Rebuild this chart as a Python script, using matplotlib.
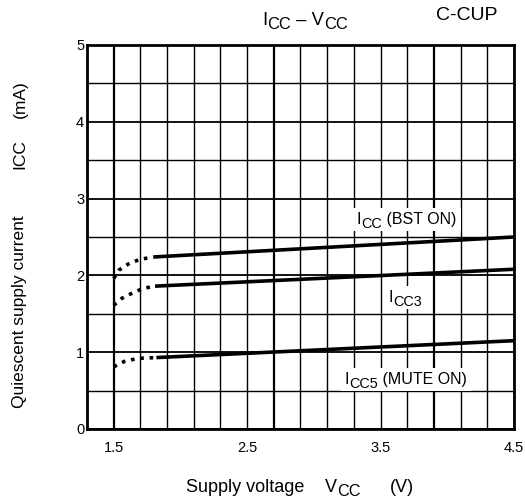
import matplotlib
matplotlib.use("Agg")
import matplotlib.pyplot as plt
from matplotlib.patches import Rectangle
import numpy as np

plt.rcParams['font.family'] = ['Liberation Sans', 'DejaVu Sans']

W, H = 525, 503

# measured curves (Vcc in V, Icc in mA)
vcc_dot_bst = [1.5, 1.54, 1.62, 1.70, 1.80]
icc_dot_bst = [1.96, 2.07, 2.16, 2.21, 2.24]
vcc_line_bst = [1.80, 4.50]
icc_line_bst = [2.24, 2.50]

vcc_dot_3 = [1.5, 1.56, 1.64, 1.72, 1.81]
icc_dot_3 = [1.61, 1.70, 1.77, 1.83, 1.86]
vcc_line_3 = [1.81, 4.50]
icc_line_3 = [1.86, 2.08]

vcc_dot_5 = [1.5, 1.58, 1.68, 1.82]
icc_dot_5 = [0.81, 0.88, 0.92, 0.93]
vcc_line_5 = [1.82, 4.50]
icc_line_5 = [0.93, 1.15]

x_ticks = [1.5, 2.5, 3.5, 4.5]
y_ticks = [0, 1, 2, 3, 4, 5]

fig = plt.figure(figsize=(W / 100, H / 100), dpi=100)
ax = fig.add_axes([87 / W, 1 - 429 / H, 427 / W, 384 / H])
renderer = fig.canvas.get_renderer()


def sub_text(px, py, parts, size, box=False):
    """text made of pieces, (string, is_subscript); px/py = left/baseline in pixels from top-left"""
    x = px
    for s, sub in parts:
        fs = size * 0.9 if sub else size
        drop = size * 100 / 72 * 0.24 if sub else 0
        t = fig.text(x / W, 1 - (py + drop) / H, s, fontsize=fs, ha='left', va='baseline', zorder=6)
        x += t.get_window_extent(renderer).width
    if box:
        hpx = size * 100 / 72
        fig.patches.append(Rectangle(((px - 4) / W, 1 - (py + 0.45 * hpx) / H),
                                     (x - px + 8) / W, 1.45 * hpx / H,
                                     transform=fig.transFigure, facecolor='white',
                                     edgecolor='none', zorder=5))
    return x


# grid drawn by hand, 0.2 V x 0.5 mA cells
for xv in np.arange(1.3, 4.51, 0.2):
    lw = 1.6 if any(abs(xv - t) < 1e-6 for t in (1.5, 2.7, 3.9)) else 1.0
    ax.axvline(xv, color='black', lw=lw, zorder=1)
for yv in np.arange(0, 5.01, 0.5):
    ax.axhline(yv, color='black', lw=1.3 if yv % 1 == 0 else 1.0, zorder=1)

for vd, idd, vl, il in [(vcc_dot_bst, icc_dot_bst, vcc_line_bst, icc_line_bst),
                        (vcc_dot_3, icc_dot_3, vcc_line_3, icc_line_3),
                        (vcc_dot_5, icc_dot_5, vcc_line_5, icc_line_5)]:
    ax.plot(vd, idd, color='black', lw=2.6, linestyle=(0, (1, 1.6)), zorder=3)
    ax.plot(vl, il, color='black', lw=2.6, solid_capstyle='butt', zorder=3)

ax.set_xlim(1.3, 4.5)
ax.set_ylim(0, 5)
ax.set_xticks(x_ticks)
ax.set_xticklabels([str(t) for t in x_ticks])
ax.set_yticks(y_ticks)
ax.tick_params(length=0, labelsize=10.5)
ax.tick_params(axis='x', pad=9)
ax.tick_params(axis='y', pad=2)
for s in ax.spines.values():
    s.set_linewidth(2)
    s.set_zorder(5)

# labels on the curves
sub_text(357, 224, [('I', False), ('CC', True), (' (BST ON)', False)], 11.5, box=True)
sub_text(389, 302, [('I', False), ('CC3', True)], 11.5, box=True)
sub_text(345, 384, [('I', False), ('CC5', True), (' (MUTE ON)', False)], 11.5, box=True)

# title
sub_text(262, 25, [('I', False), ('CC', True), (' – V', False), ('CC', True)], 13.2)
fig.text(467 / W, 1 - 16 / H, 'C-CUP', ha='center', va='center', fontsize=14)

# axis labels
sub_text(186, 492, [('Supply voltage', False)], 13)
sub_text(325, 492, [('V', False), ('CC', True)], 13)
sub_text(390, 492, [('(V)', False)], 13)

fig.text(20 / W, 1 - 312 / H, 'Quiescent supply current', rotation=90,
         ha='center', va='center', fontsize=12.5)
fig.text(20 / W, 1 - 154 / H, 'ICC', rotation=90, ha='center', va='center', fontsize=12.5)
fig.text(20 / W, 1 - 99 / H, '(mA)', rotation=90, ha='center', va='center', fontsize=12.5)

fig.savefig('out.png', dpi=100)
